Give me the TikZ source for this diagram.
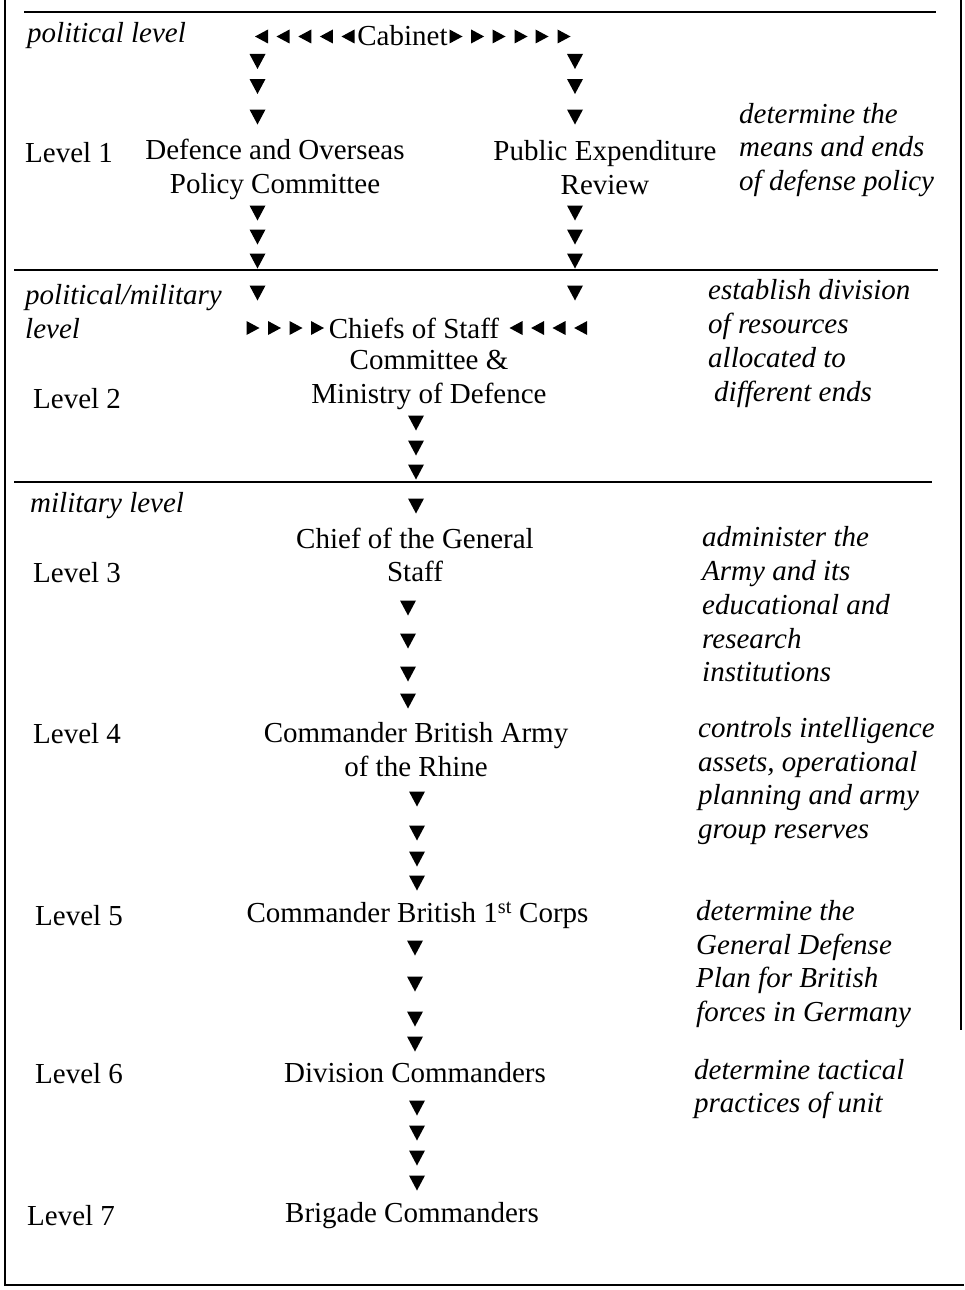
\documentclass[tikz,border=0pt]{standalone}
\usepackage{fontspec}
\setmainfont{Liberation Serif}
\begin{document}
\begin{tikzpicture}[x=1pt,y=-1pt,
  every node/.style={inner sep=0pt, yshift=-1pt, font=\fontsize{29}{33.7}\selectfont},
  lbl/.style={anchor=west, align=left},
  ital/.style={font=\fontsize{29}{33.7}\selectfont\itshape},
  ctr/.style={align=center},
  rulel/.style={line width=1.4pt},
  framel/.style={line width=2pt},
  pics/tdown/.style={code={\fill (-8,-7.5) -- (8,-7.5) -- (0,7.5) -- cycle;}},
  pics/tleft/.style={code={\fill (6.5,-7) -- (6.5,7) -- (-6.5,0) -- cycle;}},
  pics/tright/.style={code={\fill (-6.5,-7) -- (-6.5,7) -- (6.5,0) -- cycle;}}
]
\useasboundingbox (0,0) rectangle (964,1290);

% frame and rules
\draw[framel] (5,0) -- (5,1285) -- (964,1285);
\draw[framel] (961,0) -- (961,1030);
\draw[rulel] (24,12) -- (936,12);
\draw[rulel] (14,270) -- (938,270);
\draw[rulel] (14,482) -- (932,482);

% left labels
\node[lbl,ital] (lpol) at (27,35) {political level};
\node[lbl] (l1) at (25,152) {Level 1};
\node[lbl,ital] (lpm) at (25,310.5) {political/military\\level};
\node[lbl] (l2) at (33,398) {Level 2};
\node[lbl,ital] (lmil) at (30,505) {military level};
\node[lbl] (l3) at (33,572) {Level 3};
\node[lbl] (l4) at (33,733) {Level 4};
\node[lbl] (l5) at (35,915) {Level 5};
\node[lbl] (l6) at (35,1073) {Level 6};
\node[lbl] (l7) at (27,1215) {Level 7};

% centre column
\node (cab) at (402.5,35) {Cabinet};
\node[ctr] (dopc) at (275,168.5) {Defence and Overseas\\Policy Committee};
\node[ctr] (per) at (605,166.5) {Public Expenditure\\Review};
\node (cos) at (414,327) {Chiefs of Staff};
\node[ctr] (mod) at (429,379) {Committee \&\\Ministry of Defence};
\node[ctr] (cgs) at (415,554) {Chief of the General\\Staff};
\node[ctr] (cbar) at (416,748.5) {Commander British Army\\of the Rhine};
\node (c1c) at (417.5,914) {Commander British 1\textsuperscript{st} Corps};
\node (div) at (415,1072) {Division Commanders};
\node (bde) at (412,1215) {Brigade Commanders};

% right column
\node[lbl,ital] (r1) at (739,149) {determine the\\means and ends\\of defense policy};
\node[lbl,ital] (r2) at (708,342.5) {establish division\\of resources\\allocated to\\\hspace*{6pt}different ends};
\node[lbl,ital] (r3) at (702,603.5) {administer the\\Army and its\\educational and\\research\\institutions};
\node[lbl,ital] (r4) at (698,780) {controls intelligence\\assets, operational\\planning and army\\group reserves};
\node[lbl,ital] (r5) at (696,963) {determine the\\General Defense\\Plan for British\\forces in Germany};
\node[lbl,ital] (r6) at (694,1088) {determine tactical\\practices of unit};

% cabinet arrows
\foreach \x in {261.5,283,304.8,326.4,348} \pic at (\x,35.5) {tleft};
\foreach \x in {456,477.6,499,521,542,564} \pic at (\x,35.5) {tright};
% chiefs arrows
\foreach \x in {253,274.5,296,317.5} \pic at (\x,327) {tright};
\foreach \x in {516,537.6,559,580.7} \pic at (\x,327) {tleft};

% down chains
\foreach \y in {60.5,85.5,116,212,236,260,292} \pic at (257.5,\y) {tdown};
\foreach \y in {60.5,85.5,116,212,236,260,292} \pic at (575,\y) {tdown};
\foreach \y in {422,447,471,505} \pic at (416,\y) {tdown};
\foreach \y in {607,640,673,700} \pic at (408,\y) {tdown};
\foreach \y in {798,832,858,882} \pic at (417,\y) {tdown};
\foreach \y in {947,983,1018,1043} \pic at (415,\y) {tdown};
\foreach \y in {1107,1132,1157,1182} \pic at (417,\y) {tdown};
\end{tikzpicture}
\end{document}
